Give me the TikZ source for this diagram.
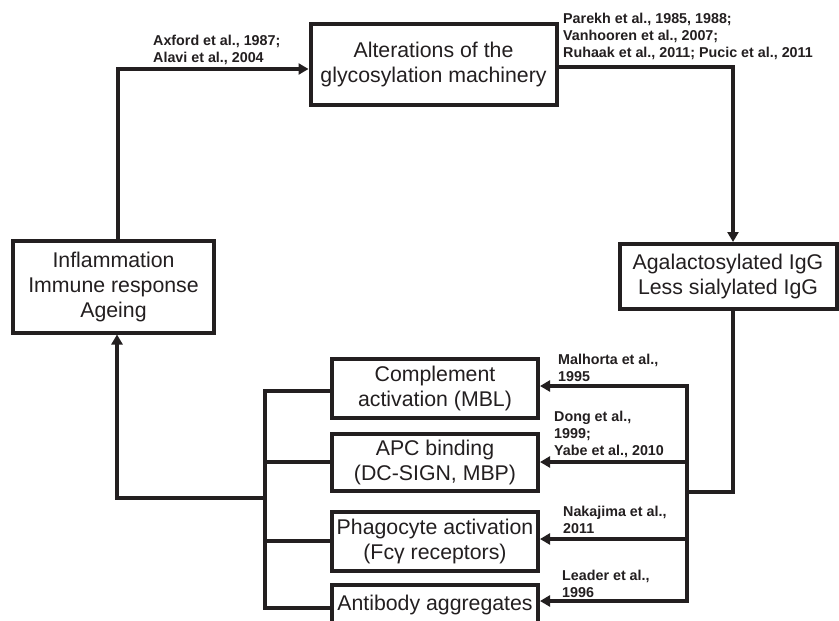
\documentclass[tikz,border=0pt]{standalone}
\usepackage{fontspec}
\setmainfont{Liberation Sans}
\usetikzlibrary{arrows.meta}
\definecolor{ink}{HTML}{231F20}
\tikzset{
  box/.style={draw=ink, line width=4pt, rectangle, inner sep=0pt, align=center, text=ink,
    font=\fontsize{21.3}{25}\selectfont},
  lbl/.style={anchor=west, inner sep=0pt, align=left, text=ink,
    font=\fontsize{14.3}{17}\selectfont\bfseries},
  wire/.style={draw=ink, line width=3.6pt, line cap=rect},
  conn/.style={wire, -{Triangle[length=10pt,width=11pt]}}
}
\begin{document}
\begin{tikzpicture}[x=1pt,y=-1pt]
\useasboundingbox (0,0) rectangle (839,621);
\clip (0,0) rectangle (839,621);
\fill[white] (0,0) rectangle (839,621);

% boxes
\node[box, minimum width=246pt, minimum height=81pt] (alt) at (433.5,64) {Alterations of the\\glycosylation machinery};
\node[box, minimum width=201pt, minimum height=92pt] (inflam) at (113.5,286.5) {Inflammation\\Immune response\\Ageing};
\node[box, minimum width=217pt, minimum height=65pt] (agal) at (728,276.5) {Agalactosylated IgG\\Less sialylated IgG};
\node[box, minimum width=206pt, minimum height=59pt] (compl) at (435,388.5) {Complement\\activation (MBL)};
\node[box, minimum width=206pt, minimum height=57pt] (apc) at (435,462.5) {APC binding\\(DC-SIGN, MBP)};
\node[box, minimum width=206pt, minimum height=59pt] (phago) at (435,541.5) {Phagocyte activation\\(Fcγ receptors)};
\node[box, minimum width=206pt, minimum height=41pt] (anti) at (435,605) {Antibody aggregates};

% junction coordinates
\coordinate (upx) at (118,0);
\coordinate (rgx) at (733,0);
\coordinate (rb1) at (687,386);
\coordinate (rb2) at (687,462);
\coordinate (rb3) at (687,539);
\coordinate (rb4) at (687,601);
\coordinate (rj) at (687,492);
\coordinate (lb1) at (265,391);
\coordinate (lb2) at (265,462);
\coordinate (lb3) at (265,541);
\coordinate (lb4) at (265,608);
\coordinate (lj) at (265,498);
\coordinate (dnx) at (117,0);

% cycle connectors
\draw[conn] (upx |- inflam.north) |- (alt.west |- 0,69);
\draw[conn] (alt.east |- 0,67) -| (rgx |- agal.north);
\draw[wire] (rgx |- agal.south) |- (rj);

% right bus
\draw[wire] (rb1) -- (rb4);
\draw[conn] (rb1) -- (compl.east |- rb1);
\draw[conn] (rb2) -- (apc.east |- rb2);
\draw[conn] (rb3) -- (phago.east |- rb3);
\draw[conn] (rb4) -- (anti.east |- rb4);

% left bus
\draw[wire] (lb1) -- (lb4);
\draw[wire] (lb1) -- (compl.west |- lb1);
\draw[wire] (lb2) -- (apc.west |- lb2);
\draw[wire] (lb3) -- (phago.west |- lb3);
\draw[wire] (lb4) -- (anti.west |- lb4);
\draw[conn] (lj) -| (inflam.south -| dnx);

% labels
\node[lbl] (l1) at (153,50) {Axford et al., 1987;\\Alavi et al., 2004};
\node[lbl] (l2) at (563,36.5) {Parekh et al., 1985, 1988;\\Vanhooren et al., 2007;\\Ruhaak et al., 2011; Pucic et al., 2011};
\node[lbl] (l3) at (558,368) {Malhorta et al.,\\1995};
\node[lbl] (l4) at (554,434) {Dong et al.,\\1999;\\Yabe et al., 2010};
\node[lbl] (l5) at (563,520) {Nakajima et al.,\\2011};
\node[lbl] (l6) at (562,584) {Leader et al.,\\1996};
\end{tikzpicture}
\end{document}
